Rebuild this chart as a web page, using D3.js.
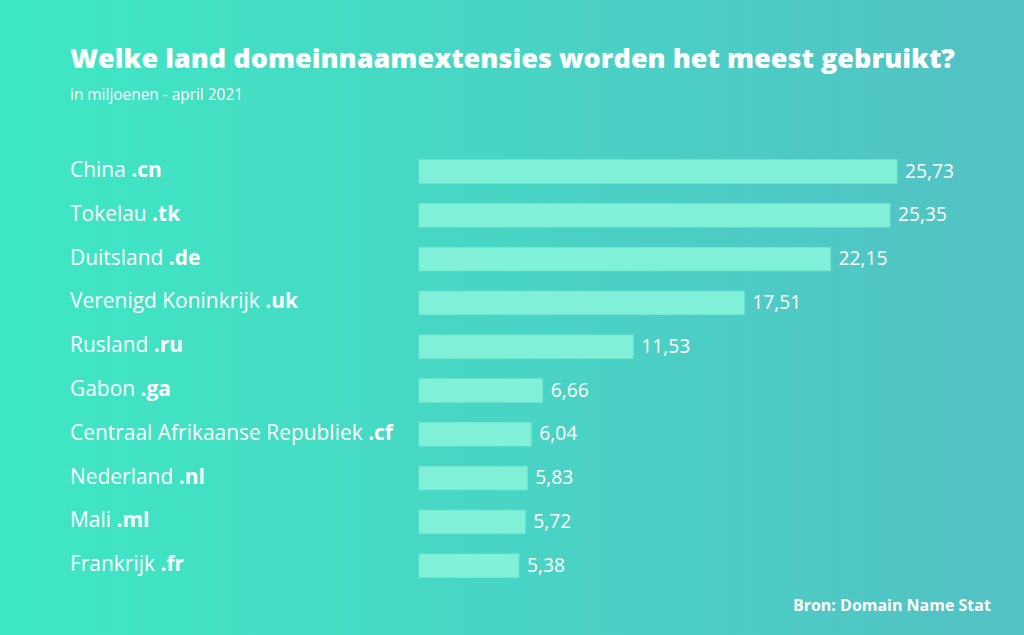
<!DOCTYPE html>
<html><head><meta charset="utf-8">
<script src="https://cdn.jsdelivr.net/npm/d3@7"></script>
<style>html,body{margin:0;padding:0;overflow:hidden;}svg{display:block;}</style>
</head><body>
<svg id="c" width="1024" height="635"></svg>
<script>
const countries = ["China","Tokelau","Duitsland","Verenigd Koninkrijk","Rusland","Gabon","Centraal Afrikaanse Republiek","Nederland","Mali","Frankrijk"];
const extensions = [".cn",".tk",".de",".uk",".ru",".ga",".cf",".nl",".ml",".fr"];
const values = [25.73,25.35,22.15,17.51,11.53,6.66,6.04,5.83,5.72,5.38];
const valueLabels = ["25,73","25,35","22,15","17,51","11,53","6,66","6,04","5,83","5,72","5,38"];

const title = "Welke land domeinnaamextensies worden het meest gebruikt?";
const subtitle = "in miljoenen - april 2021";
const source = "Bron: Domain Name Stat";

const svg = d3.select("#c");
const defs = svg.append("defs");
const g = defs.append("linearGradient").attr("id","bg").attr("x1","0").attr("x2","1").attr("y1","0").attr("y2","0");
g.append("stop").attr("offset","0").attr("stop-color","#3ee8c3");
g.append("stop").attr("offset","1").attr("stop-color","#53c1c5");
svg.append("rect").attr("width",1024).attr("height",635).attr("fill","url(#bg)");

const font = "'Open Sans', Lato, sans-serif";

// fit a text element's font size so its width matches a target width
function fit(sel, target) {
  const n = sel.node();
  const fs = parseFloat(sel.style("font-size"));
  const w = n.getComputedTextLength();
  if (w > 0) sel.style("font-size", (fs * target / w).toFixed(2) + "px");
}

const x = d3.scaleLinear().domain([0, 25.73]).range([419, 897]);
const y = d3.scaleBand().domain(countries).range([149.6, 587.6]).paddingInner(0.463).paddingOuter(0.2315);

const data = countries.map((c,i)=>({c, ext: extensions[i], v: values[i], lab: valueLabels[i]}));

svg.selectAll("rect.bar").data(data).join("rect").attr("class","bar")
  .attr("x", x(0)).attr("y", d=>y(d.c)).attr("width", d=>x(d.v)-x(0)).attr("height", y.bandwidth())
  .attr("fill","#80f1d8").attr("stroke","#74e6cf").attr("stroke-width",0.8);

const vals = svg.selectAll("text.val").data(data).join("text").attr("class","val")
  .attr("x", d=>x(d.v)+8).attr("y", d=>y(d.c)+y.bandwidth()/2+6)
  .attr("fill","#fff").style("font-family",font).style("font-size","18px")
  .text(d=>d.lab);
{
  const w = vals.filter((d,i)=>i===0).node().getComputedTextLength();
  vals.style("font-size", (18*49/w).toFixed(2)+"px");
}

const cat = svg.selectAll("text.cat").data(data).join("text").attr("class","cat")
  .attr("x",70).attr("y", d=>y(d.c)+y.bandwidth()/2+5.5)
  .attr("fill","#fff").style("font-family",font).style("font-size","18px");
cat.append("tspan").text(d=>d.c+" ");
cat.append("tspan").style("font-weight","bold").text(d=>d.ext);
{
  const w = cat.filter((d,i)=>i===6).node().getComputedTextLength();
  cat.style("font-size", (18*323/w).toFixed(2)+"px");
}

svg.append("text").attr("x",70).attr("y",68).attr("fill","#fff")
  .style("font-family",font).style("font-weight","800").style("font-size","27px")
  .attr("textLength",885).attr("lengthAdjust","spacingAndGlyphs").text(title);
fit(svg.append("text").attr("x",70).attr("y",100).attr("fill","#fff")
  .style("font-family",font).style("font-size","13.5px").text(subtitle), 173);
fit(svg.append("text").attr("x",793).attr("y",611).attr("fill","#fff")
  .style("font-family",font).style("font-weight","bold").style("font-size","15px").text(source), 198);
</script>
</body></html>
